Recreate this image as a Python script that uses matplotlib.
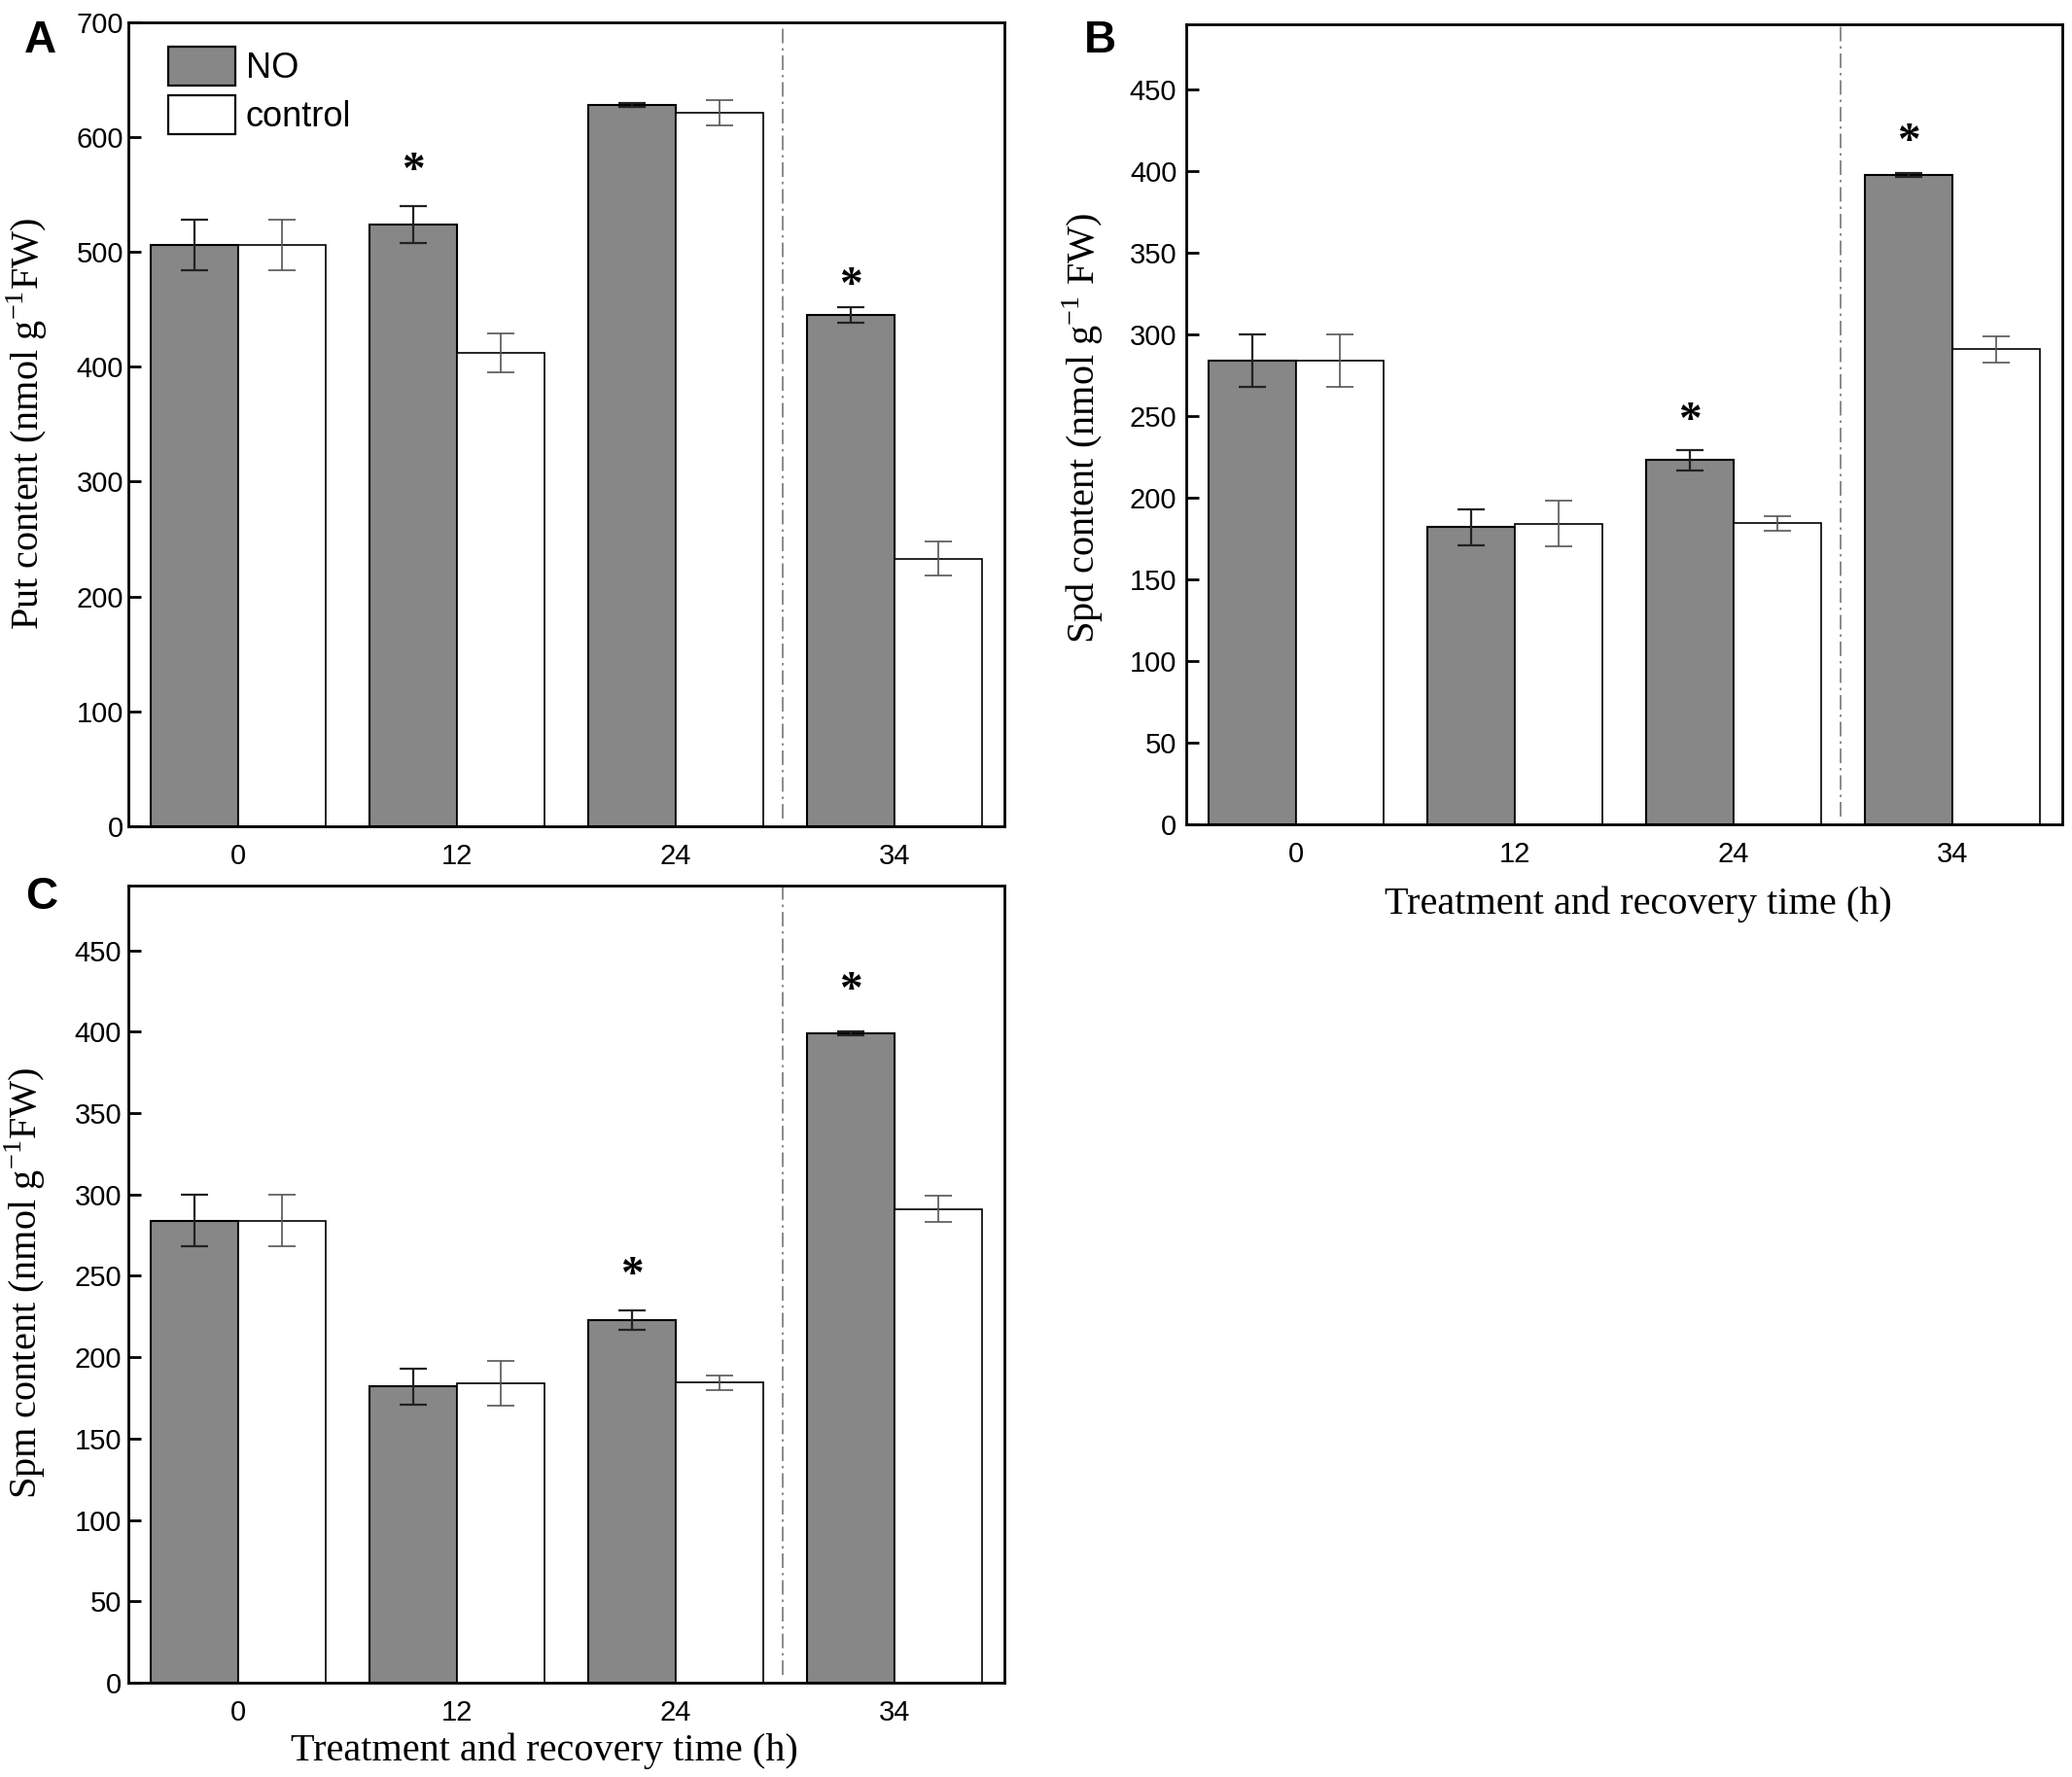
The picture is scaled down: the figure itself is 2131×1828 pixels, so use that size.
import matplotlib
matplotlib.use('Agg')
import matplotlib.pyplot as plt
from matplotlib import font_manager
import numpy as np

# 字型：刻度用窄體無襯線，軸標題用襯線體
installed = {f.name for f in font_manager.fontManager.ttflist}
SANS = ['Liberation Sans Narrow', 'Arial Narrow', 'Liberation Sans', 'DejaVu Sans']
SANS = [f for f in SANS if f in installed] or ['DejaVu Sans']
SERIF = ['Liberation Serif', 'DejaVu Serif']
plt.rcParams['font.family'] = SANS
plt.rcParams['mathtext.fontset'] = 'custom'
plt.rcParams['mathtext.rm'] = 'Liberation Serif'

W, H = 2131, 1828

# ---- data ----
time_labels = ['0', '12', '24', '34']

put_no = [506, 524, 628, 445]
put_no_err = [22, 16, 1.5, 7]
put_ctrl = [506, 412, 621, 233]
put_ctrl_err = [22, 17, 11, 15]
put_star_idx = [1, 3]
put_star_y = [580, 480]

spd_no = [284, 182, 223, 398]
spd_no_err = [16, 11, 6, 1.2]
spd_ctrl = [284, 184, 184.5, 291]
spd_ctrl_err = [16, 14, 4.5, 8]
spd_star_idx = [2, 3]
spd_star_y = [254, 425]

spm_no = [284, 182, 223, 399]
spm_no_err = [16, 11, 6, 1.2]
spm_ctrl = [284, 184, 184.5, 291]
spm_ctrl_err = [16, 14, 4.5, 8]
spm_star_idx = [2, 3]
spm_star_y = [257, 432]

NO_COLOR = '#878787'


def px_box(left, top, right, bottom):
    return [left / W, 1 - bottom / H, (right - left) / W, (bottom - top) / H]


def draw_panel(ax, no, no_err, ctrl, ctrl_err, star_idx, star_y, ymax, ystep, ypad):
    x = np.arange(len(time_labels))
    w = 0.4
    ax.bar(x - w / 2, no, w, color=NO_COLOR, edgecolor='black', linewidth=1.5, zorder=2, label='NO')
    ax.bar(x + w / 2, ctrl, w, color='white', edgecolor='black', linewidth=1.2, zorder=2, label='control')
    ax.errorbar(x - w / 2, no, yerr=no_err, fmt='none', ecolor='#222222',
                elinewidth=1.6, capsize=10, capthick=1.6, zorder=3)
    ax.errorbar(x + w / 2, ctrl, yerr=ctrl_err, fmt='none', ecolor='#555555',
                elinewidth=1.2, capsize=10, capthick=1.2, zorder=3)
    # 虛點線分隔處理期與恢復期
    ax.axvline(2.49, ymin=0.01, ymax=1, color='#777777', linewidth=1.2,
               linestyle=(0, (9, 3, 1.5, 3)), zorder=1)
    for i, yc in zip(star_idx, star_y):
        ax.annotate('*', (x[i] - w / 2, yc), xytext=(0, -17), textcoords='offset points',
                    ha='center', va='baseline', fontsize=34, fontweight='bold', family=SERIF)
    ax.set_xlim(-0.5, 3.5)
    ax.set_ylim(0, ymax)
    ax.set_xticks(x)
    ax.set_xticklabels(time_labels)
    ax.set_yticks(np.arange(0, ymax - ystep / 2 + 1, ystep))
    ax.tick_params(axis='both', direction='in', labelsize=21, width=2, length=9)
    ax.tick_params(axis='x', pad=12)
    ax.tick_params(axis='y', pad=ypad)
    for s in ax.spines.values():
        s.set_linewidth(2)


fig = plt.figure(figsize=(W / 100, H / 100), dpi=100)

axA = fig.add_axes(px_box(132, 22.7, 1033, 850))
draw_panel(axA, put_no, put_no_err, put_ctrl, put_ctrl_err, put_star_idx, put_star_y, 700, 100, 3.5)
axA.set_yticks(np.arange(0, 701, 100))
leg = axA.legend(loc='upper left', bbox_to_anchor=(0.045, 0.970), frameon=False, fontsize=26,
                 handlelength=1.92, handleheight=1.36, handletextpad=0.3, labelspacing=0.26,
                 borderpad=0, borderaxespad=0)
for p in leg.get_patches():
    p.set_linewidth(1.6)

axB = fig.add_axes(px_box(1220, 25, 2121, 848))
draw_panel(axB, spd_no, spd_no_err, spd_ctrl, spd_ctrl_err, spd_star_idx, spd_star_y, 490, 50, 7)

axC = fig.add_axes(px_box(132, 910.7, 1033, 1731))
draw_panel(axC, spm_no, spm_no_err, spm_ctrl, spm_ctrl_err, spm_star_idx, spm_star_y, 490, 50, 5)

# 軸標題
fig.text(28 / W, 1 - 436 / H, 'Put content (nmol g$^{-1}$FW)', rotation=90,
         ha='center', va='center', fontsize=29, family=SERIF)
fig.text(1114 / W, 1 - 440 / H, 'Spd content (nmol g$^{-1}$ FW)', rotation=90,
         ha='center', va='center', fontsize=29, family=SERIF)
fig.text(26 / W, 1 - 1320 / H, 'Spm content (nmol g$^{-1}$FW)', rotation=90,
         ha='center', va='center', fontsize=29, family=SERIF)
fig.text(1685 / W, 1 - 930 / H, 'Treatment and recovery time (h)',
         ha='center', va='center', fontsize=29, family=SERIF)
fig.text(560 / W, 1 - 1801 / H, 'Treatment and recovery time (h)',
         ha='center', va='center', fontsize=29, family=SERIF)

# 子圖編號
for lab, xp, yp in [('A', 25, 54), ('B', 1115, 54), ('C', 26, 935)]:
    fig.text(xp / W, 1 - yp / H, lab, ha='left', va='baseline', fontsize=33,
             fontweight='bold', family=['Liberation Sans', 'DejaVu Sans'])

fig.savefig('out.png', dpi=100)
